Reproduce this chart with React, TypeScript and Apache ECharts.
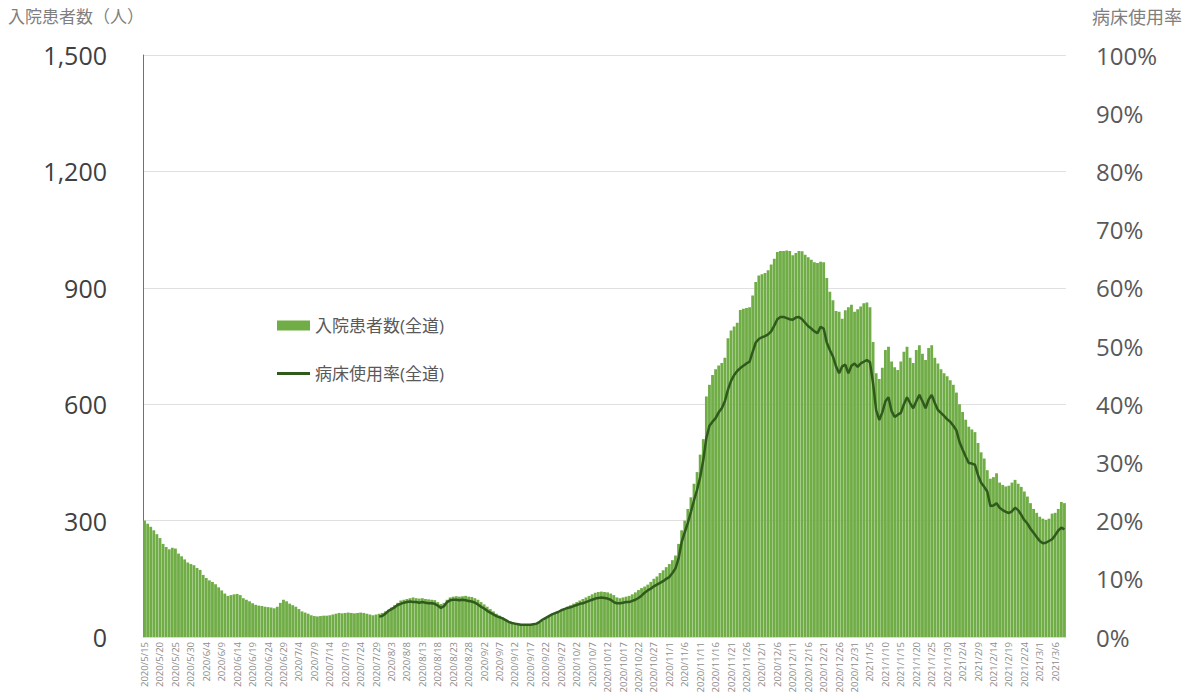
import React, { useEffect, useRef } from "react";
import * as echarts from "echarts";

// Daily categories start on 2020/5/15
const START_YEAR = 2020;
const START_MONTH = 5;
const START_DAY = 15;

// 入院患者数（全道）, daily
const patients: number[] = [
  300, 292, 284, 275, 265, 255, 240, 232, 226, 230,
  228, 215, 208, 200, 192, 188, 185, 178, 173, 160,
  152, 146, 142, 136, 128, 120, 112, 106, 108, 110,
  111, 108, 100, 96, 92, 87, 83, 81, 80, 78,
  77, 76, 74, 78, 88, 96, 92, 86, 82, 78,
  72, 66, 63, 60, 56, 54, 53, 54, 55, 55,
  56, 58, 60, 62, 61, 62, 63, 62, 61, 62,
  63, 62, 60, 58, 56, 58, 60, 62, 66, 70,
  76, 82, 88, 94, 96, 98, 100, 102, 100, 99,
  100, 98, 97, 96, 95, 90, 85, 88, 96, 102,
  104, 105, 104, 105, 106, 104, 103, 100, 96, 90,
  84, 78, 72, 66, 60, 55, 50, 45, 41, 38,
  36, 34, 33, 32, 32, 32, 33, 35, 38, 42,
  48, 54, 58, 62, 66, 70, 74, 78, 82, 86,
  90, 94, 98, 102, 106, 110, 114, 116, 117, 116,
  115, 112, 108, 102, 100, 102, 104, 106, 110, 115,
  121, 126, 130, 135, 142, 150, 156, 165, 172, 180,
  188, 198, 210, 240, 275, 300, 330, 360, 395, 425,
  470, 510, 620, 650, 675, 690, 700, 706, 720, 770,
  790, 800, 810, 843, 846, 848, 850, 880, 915, 932,
  935, 938, 945, 960, 975, 992, 995, 995, 996, 995,
  984, 990, 995, 994, 985, 979, 972, 966, 964, 967,
  966, 925, 890, 868, 840, 838, 820, 842, 850, 856,
  838, 845, 852, 860, 862, 850, 760, 680, 665, 694,
  740, 748, 710, 695, 688, 710, 735, 748, 720, 706,
  740, 752, 730, 714, 745, 752, 720, 705, 690, 680,
  672, 662, 650, 630, 600, 580, 560, 542, 535, 528,
  500, 476, 460, 430, 408, 412, 422, 398, 392, 388,
  390, 398, 405, 395, 387, 375, 362, 345, 330, 320,
  310, 305, 302, 305, 318, 320, 330, 348, 345,
];

// 病床使用率（全道）, %, published from this day index onward
const RATE_START = 76;
const rates: number[] = [
  3.5, 3.6, 4.0, 4.5, 4.8, 5.1, 5.5, 5.7, 5.9, 6.0,
  6.1, 6.0, 6.0, 5.9, 6.0, 5.9, 5.8, 5.8, 5.7, 5.4,
  5.0, 5.3, 6.0, 6.3, 6.4, 6.4, 6.3, 6.4, 6.3, 6.2,
  6.1, 5.9, 5.6, 5.2, 4.9, 4.5, 4.2, 3.9, 3.6, 3.4,
  3.2, 2.9, 2.6, 2.4, 2.3, 2.2, 2.1, 2.1, 2.1, 2.1,
  2.2, 2.3, 2.6, 3.0, 3.3, 3.6, 3.9, 4.1, 4.3, 4.6,
  4.8, 5.0, 5.1, 5.3, 5.5, 5.7, 5.8, 6.0, 6.2, 6.4,
  6.6, 6.7, 6.8, 6.7, 6.6, 6.4, 6.0, 5.8, 5.8, 5.9,
  6.0, 6.0, 6.2, 6.4, 6.7, 7.1, 7.6, 8.0, 8.3, 8.7,
  9.0, 9.3, 9.6, 10.0, 10.3, 11.0, 11.8, 13.5, 16.3, 18.0,
  19.6, 21.5, 23.5, 25.3, 27.5, 30.4, 34.2, 36.3, 37.0, 37.6,
  38.6, 39.3, 40.5, 42.5, 44.0, 45.0, 45.7, 46.2, 46.6, 47.0,
  47.3, 49.0, 50.6, 51.2, 51.5, 51.7, 52.0, 52.5, 53.5, 54.6,
  55.0, 55.0, 54.8, 54.6, 54.5, 54.9, 55.0, 54.6, 54.0, 53.4,
  53.0, 52.5, 52.2, 53.3, 53.0, 50.6, 49.3, 48.2, 46.5, 45.3,
  46.5, 46.8, 45.3, 46.6, 47.0, 46.4, 47.0, 47.3, 47.6, 47.2,
  43.6, 39.0, 37.3, 38.6, 40.5, 41.2, 38.8, 37.8, 38.2, 38.5,
  40.0, 41.2, 40.2, 39.3, 40.5, 41.6, 40.5, 39.3, 40.8, 41.6,
  40.2, 39.0, 38.5, 38.0, 37.4, 37.0, 36.3, 35.5, 33.5, 32.2,
  31.0, 29.9, 29.8, 29.6, 27.8, 26.5, 25.8, 25.0, 22.5, 22.6,
  23.0, 22.2, 21.8, 21.5, 21.3, 21.6, 22.2, 21.8, 21.0, 20.1,
  19.5, 18.6, 17.9, 17.2, 16.5, 16.1, 16.2, 16.5, 16.8, 17.5,
  18.3, 18.8, 18.5,
];

const LEFT_TICKS = { min: 0, max: 1500, interval: 300 };
const RIGHT_TICKS = { min: 0, max: 100, interval: 10 };

const BAR_NAME = "入院患者数(全道)";
const LINE_NAME = "病床使用率(全道)";
const LEFT_AXIS_NAME = "入院患者数（人）";
const RIGHT_AXIS_NAME = "病床使用率";

function buildDates(n: number): string[] {
  const out: string[] = [];
  const d = new Date(START_YEAR, START_MONTH - 1, START_DAY);
  for (let i = 0; i < n; i++) {
    out.push(`${d.getFullYear()}/${d.getMonth() + 1}/${d.getDate()}`);
    d.setDate(d.getDate() + 1);
  }
  return out;
}

export default function App() {
  const ref = useRef<HTMLDivElement>(null);

  useEffect(() => {
    if (!ref.current) return;
    const chart = echarts.init(ref.current, null, { renderer: "svg" });
    const dates = buildDates(patients.length);
    const rateData: (number | null)[] = dates.map((_, i) =>
      i >= RATE_START && i - RATE_START < rates.length ? rates[i - RATE_START] : null
    );
    const font = "'Open Sans', 'Noto Sans CJK JP', sans-serif";

    chart.setOption({
      animation: false,
      backgroundColor: "#ffffff",
      textStyle: { fontFamily: font },
      grid: { left: 143, right: 131, top: 55, bottom: 60 },
      legend: {
        left: 272,
        top: 312,
        orient: "vertical",
        itemWidth: 33,
        itemHeight: 10,
        itemGap: 31,
        textStyle: { fontSize: 17, color: "#595959", fontFamily: font },
        data: [
          { name: BAR_NAME, icon: "rect" },
          { name: LINE_NAME, icon: "path://M0,0 L33,0 L33,3 L0,3 Z" },
        ],
      },
      graphic: [
        {
          type: "text",
          left: 8,
          top: 8,
          style: { text: LEFT_AXIS_NAME, fontSize: 17, fill: "#7f7f7f", fontFamily: font },
        },
        {
          type: "text",
          left: 1092,
          top: 8,
          style: { text: RIGHT_AXIS_NAME, fontSize: 18, fill: "#7f7f7f", fontFamily: font },
        },
      ],
      xAxis: {
        type: "category",
        data: dates,
        boundaryGap: true,
        axisLine: { show: true, lineStyle: { color: "#d9d9d9" } },
        axisTick: { show: false },
        axisLabel: {
          interval: 4,
          rotate: 90,
          fontSize: 9.5,
          color: "#8c8c8c",
          margin: 5,
        },
        splitLine: { show: false },
      },
      yAxis: [
        {
          type: "value",
          min: LEFT_TICKS.min,
          max: LEFT_TICKS.max,
          interval: LEFT_TICKS.interval,
          axisLine: { show: true, lineStyle: { color: "#76679a", width: 1 } },
          axisTick: { show: false },
          axisLabel: {
            fontSize: 25,
            color: "#404040",
            margin: 36,
            formatter: (v: number) => v.toLocaleString("en-US"),
          },
          splitLine: { show: true, lineStyle: { color: "#e0e0e0", width: 1 } },
        },
        {
          type: "value",
          min: RIGHT_TICKS.min,
          max: RIGHT_TICKS.max,
          interval: RIGHT_TICKS.interval,
          position: "right",
          axisLine: { show: false },
          axisTick: { show: false },
          axisLabel: {
            fontSize: 24,
            color: "#595959",
            margin: 30,
            formatter: "{value}%",
          },
          splitLine: { show: false },
        },
      ],
      series: [
        {
          name: BAR_NAME,
          type: "bar",
          yAxisIndex: 0,
          data: patients,
          barCategoryGap: "8%",
          itemStyle: { color: "#70ad47" },
        },
        {
          name: LINE_NAME,
          type: "line",
          yAxisIndex: 1,
          data: rateData,
          symbol: "none",
          showSymbol: false,
          connectNulls: false,
          lineStyle: { color: "#2f5a1c", width: 2.5 },
          itemStyle: { color: "#2f5a1c" },
        },
      ],
    });

    return () => chart.dispose();
  }, []);

  return (
    <div
      ref={ref}
      style={{ position: "absolute", left: 0, top: 0, width: 1197, height: 697 }}
    />
  );
}
